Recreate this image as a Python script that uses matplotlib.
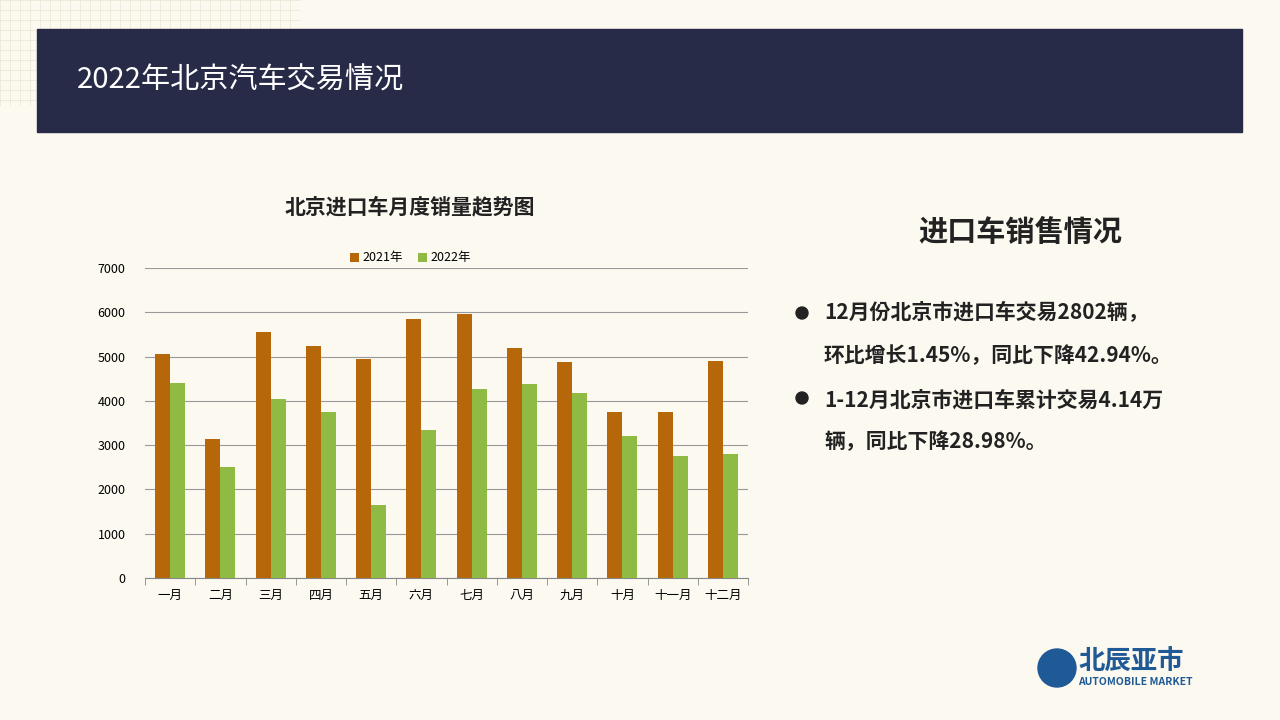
import matplotlib.pyplot as plt
import numpy as np
from matplotlib import font_manager
from matplotlib.patches import Rectangle, Circle

cjk = [f.name for f in font_manager.fontManager.ttflist if "CJK" in f.name and "Sans" in f.name]
cjk_name = next((n for n in cjk if "SC" in n), cjk[0] if cjk else "DejaVu Sans")
plt.rcParams["font.family"] = [cjk_name, "DejaVu Sans"]

months = ["一月", "二月", "三月", "四月", "五月", "六月", "七月", "八月", "九月", "十月", "十一月", "十二月"]
sales_2021 = [5050, 3150, 5550, 5250, 4950, 5850, 5970, 5200, 4880, 3750, 3750, 4900]
sales_2022 = [4400, 2500, 4050, 3750, 1650, 3350, 4270, 4380, 4180, 3200, 2750, 2802]
yticks = [0, 1000, 2000, 3000, 4000, 5000, 6000, 7000]

W, H = 1280, 720
fig = plt.figure(figsize=(12.8, 7.2), dpi=100)
fig.patch.set_facecolor("#fcf9f0")

# page decorations
bg = fig.add_axes([0, 0, 1, 1])
bg.set_xlim(0, W)
bg.set_ylim(H, 0)
bg.axis("off")
for gx in range(0, 300, 10):
    bg.plot([gx, gx], [0, 105], color="#eee8d8", lw=0.6, zorder=0)
for gy in range(0, 105, 10):
    bg.plot([0, 300], [gy, gy], color="#eee8d8", lw=0.6, zorder=0)
bg.add_patch(Rectangle((37, 29), 1205, 103, color="#272b47", zorder=2))
bg.text(77, 81, "2022年北京汽车交易情况", color="white", fontsize=21, va="center", zorder=3)
bg.text(1020, 232, "进口车销售情况", fontsize=21, ha="center", va="center", color="#222222",
        fontweight="bold")
bullets = [
    ("12月份北京市进口车交易2802辆，", 313),
    ("环比增长1.45%，同比下降42.94%。", 356),
    ("1-12月北京市进口车累计交易4.14万", 400),
    ("辆，同比下降28.98%。", 442),
]
for txt, y in bullets:
    bg.text(824, y, txt, fontsize=15, va="center", color="#222222", fontweight="bold")
bg.add_patch(Circle((802, 313), 6, color="#222222"))
bg.add_patch(Circle((802, 398), 6, color="#222222"))
bg.add_patch(Circle((1057, 668), 19, color="#1f5a96"))
bg.text(1078, 662, "北辰亚市", fontsize=19, fontweight="bold", color="#1f5a96", va="center")
bg.text(1078, 682, "AUTOMOBILE MARKET", fontsize=7.5, fontweight="bold", color="#1f5a96", va="center")

# chart
ax = fig.add_axes([145 / W, 1 - 578 / H, 603 / W, 310 / H])
ax.set_facecolor("none")
x = np.arange(len(months))
w = 0.3
ax.bar(x - w / 2, sales_2021, w, color="#b5670a", label="2021年", zorder=3)
ax.bar(x + w / 2, sales_2022, w, color="#8fbb45", label="2022年", zorder=3)
ax.set_xlim(-0.5, 11.5)
ax.set_ylim(0, 7000)
ax.set_yticks(yticks)
ax.yaxis.grid(True, color="#999999", lw=0.8, zorder=0)
ax.set_xticks(x)
ax.set_xticklabels(months, fontsize=9)
ax.tick_params(axis="y", labelsize=9, length=0, pad=14)
ax.set_xticks(np.arange(-0.5, 12, 1), minor=True)
ax.tick_params(axis="x", which="major", length=0, pad=8)
ax.tick_params(axis="x", which="minor", length=5, color="#888888")
for s in ["top", "right", "left"]:
    ax.spines[s].set_visible(False)
ax.spines["bottom"].set_color("#888888")
ax.legend(loc="lower center", bbox_to_anchor=(0.44, 0.975), ncol=2, frameon=False,
          fontsize=9, handlelength=0.7, handleheight=0.7, columnspacing=1.2, handletextpad=0.3)
fig.text(410 / W, 1 - 207 / H, "北京进口车月度销量趋势图", ha="center", va="center",
         fontsize=15, fontweight="bold", color="#222222")

fig.savefig("out.png", dpi=100, facecolor=fig.get_facecolor())
